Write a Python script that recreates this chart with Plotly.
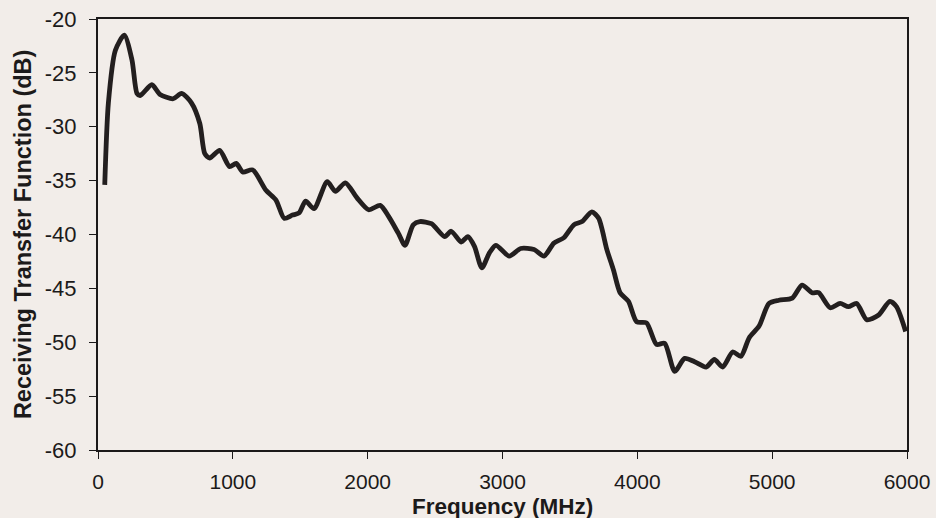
import plotly.graph_objects as go

# Receiving transfer function vs frequency
freq_mhz = [50, 77, 129, 195, 252, 289, 313, 399, 460, 558, 620, 694, 755, 792, 828,
            902, 976, 1025, 1074, 1147, 1246, 1320, 1381, 1442, 1491, 1540, 1602, 1700,
            1761, 1835, 1921, 2007, 2093, 2154, 2228, 2277, 2338, 2387, 2473, 2571, 2620,
            2694, 2743, 2792, 2847, 2903, 2951, 3050, 3135, 3234, 3308, 3381, 3455, 3529,
            3590, 3663, 3713, 3774, 3823, 3872, 3934, 3995, 4068, 4142, 4203, 4277, 4351,
            4424, 4510, 4571, 4633, 4707, 4768, 4829, 4903, 4976, 5050, 5149, 5222, 5296,
            5345, 5431, 5504, 5565, 5627, 5701, 5787, 5873, 5922, 5990]
gain_db = [-35.4, -27.8, -22.9, -21.5, -23.8, -26.9, -27.1, -26.1, -27.0, -27.4, -26.9,
           -27.8, -29.7, -32.5, -32.9, -32.2, -33.7, -33.4, -34.2, -34.0, -35.9, -36.8,
           -38.5, -38.2, -38.0, -36.9, -37.6, -35.1, -36.0, -35.2, -36.6, -37.7, -37.3,
           -38.3, -39.9, -41.0, -39.1, -38.8, -39.0, -40.2, -39.7, -40.7, -40.2, -41.1,
           -43.1, -41.7, -41.0, -42.0, -41.3, -41.4, -42.0, -40.8, -40.3, -39.1, -38.8,
           -37.9, -38.5, -41.4, -43.3, -45.4, -46.2, -48.1, -48.2, -50.2, -50.1, -52.7,
           -51.5, -51.8, -52.3, -51.6, -52.3, -50.9, -51.3, -49.6, -48.5, -46.4, -46.1,
           -45.9, -44.7, -45.4, -45.4, -46.8, -46.4, -46.7, -46.4, -47.9, -47.5, -46.2,
           -46.7, -49.0]

x_ticks = [0, 1000, 2000, 3000, 4000, 5000, 6000]
y_ticks = [-20, -25, -30, -35, -40, -45, -50, -55, -60]
x_labels = [str(v) for v in x_ticks]
y_labels = [str(v) for v in y_ticks]  # plain hyphen-minus

BG = "#f2ede9"
INK = "#1c1a1a"
FONT = "Liberation Sans, Arial, sans-serif"

fig = go.Figure()
fig.add_trace(go.Scatter(
    x=freq_mhz, y=gain_db, mode="lines",
    line=dict(color="#231f1f", width=4.8, shape="spline", smoothing=0.7),
    showlegend=False, hoverinfo="skip",
))

x_range = [0, 6000]
y_range = [-60, -20]

fig.update_layout(
    width=936, height=518,
    margin=dict(l=97.5, r=28.7, t=19, b=68, autoexpand=False),
    paper_bgcolor=BG, plot_bgcolor=BG,
    font=dict(family=FONT, color=INK, size=22),
    xaxis=dict(
        range=x_range, tickvals=x_ticks, ticktext=x_labels, ticks="outside", ticklen=7,
        tickwidth=1.2, tickcolor=INK, showgrid=False, zeroline=False, showline=True,
        linecolor=INK, linewidth=2, mirror=True, tickfont=dict(size=21, family=FONT),
        ticklabelstandoff=5, automargin=False,
    ),
    yaxis=dict(
        range=y_range, tickvals=y_ticks, ticktext=y_labels, ticks="outside", ticklen=7,
        tickwidth=1.2, tickcolor=INK, showgrid=False, zeroline=False, showline=True,
        linecolor=INK, linewidth=2, mirror=True, tickfont=dict(size=22, family=FONT),
        ticklabelstandoff=8, automargin=False,
    ),
    # overlay axes supply the inner half of the crossing tick marks
    xaxis2=dict(
        overlaying="x", range=x_range, tickvals=x_ticks, ticks="inside", ticklen=7,
        tickwidth=1.2, tickcolor=INK, showticklabels=False, showgrid=False,
        zeroline=False, showline=False, side="bottom",
    ),
    yaxis2=dict(
        overlaying="y", range=y_range, tickvals=y_ticks, ticks="inside", ticklen=7,
        tickwidth=1.2, tickcolor=INK, showticklabels=False, showgrid=False,
        zeroline=False, showline=False, side="left",
    ),
    annotations=[
        dict(text="<b>Frequency (MHz)</b>", xref="paper", yref="paper",
             x=0.5, y=-0.132, xanchor="center", yanchor="middle", showarrow=False,
             font=dict(size=22.5, family=FONT, color=INK)),
        dict(text="<b>Receiving Transfer Function (dB)</b>", xref="paper", yref="paper",
             x=-0.0932, y=0.5, xanchor="center", yanchor="middle", showarrow=False,
             textangle=-90, font=dict(size=23.5, family=FONT, color=INK)),
    ],
)

fig.write_html("out.html")
